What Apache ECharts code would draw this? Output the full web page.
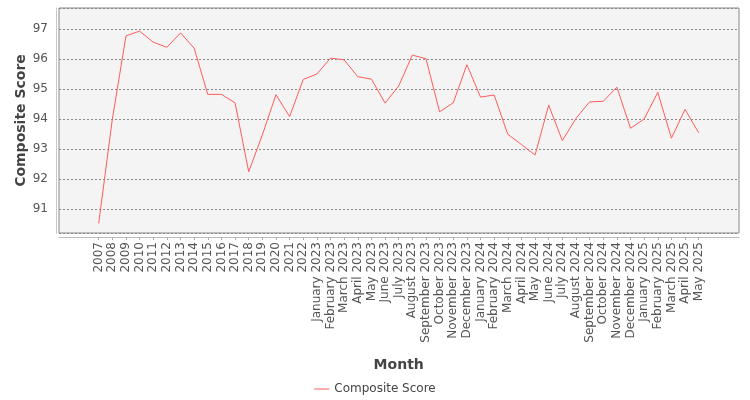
<!DOCTYPE html>
<html>
<head>
<meta charset="utf-8">
<title>Composite Score</title>
<script src="https://cdn.jsdelivr.net/npm/echarts@6/dist/echarts.min.js"></script>
<style>
  html, body { margin: 0; padding: 0; background: #fff; }
  #chart { width: 750px; height: 400px; }
</style>
</head>
<body>
<div id="chart"></div>
<script>
// categories (x axis)
var months = [
    '2007', '2008', '2009', '2010', '2011', '2012', '2013', '2014',
    '2015', '2016', '2017', '2018', '2019', '2020', '2021', '2022',
    'January 2023', 'February 2023', 'March 2023', 'April 2023', 'May 2023', 'June 2023',
    'July 2023', 'August 2023', 'September 2023', 'October 2023', 'November 2023', 'December 2023',
    'January 2024', 'February 2024', 'March 2024', 'April 2024', 'May 2024', 'June 2024',
    'July 2024', 'August 2024', 'September 2024', 'October 2024', 'November 2024', 'December 2024',
    'January 2025', 'February 2025', 'March 2025', 'April 2025', 'May 2025'
];

// series values
var compositeScore = [
    90.53, 94.0, 96.78, 96.94, 96.57, 96.40, 96.88, 96.37,
    94.83, 94.83, 94.55, 92.25, 93.48, 94.82, 94.09, 95.33,
    95.51, 96.04, 95.98, 95.42, 95.34, 94.54,
    95.11, 96.14, 96.02, 94.25, 94.55, 95.82,
    94.74, 94.81, 93.50, 93.16, 92.81, 94.47,
    93.29, 94.03, 94.58, 94.60, 95.07, 93.70,
    94.01, 94.90, 93.37, 94.33, 93.55
];

// value range of the plot
var yMin = 90.21;
var yMax = 97.71;

var seriesName = 'Composite Score';
var lineColor = '#ff5b5b';
var textColor = '#444';

var myChart = echarts.init(document.getElementById('chart'));

var option = {
    animation: false,
    textStyle: { fontFamily: 'DejaVu Sans' },
    grid: [
        // plot frame: background, grid lines, y axis
        { left: 59, right: 11, top: 8, bottom: 167, show: true,
          backgroundColor: '#f4f4f4', borderColor: '#888', borderWidth: 1 },
        // data area (categories inset from the frame)
        { left: 98.7, right: 51.3, top: 8, bottom: 167 }
    ],
    xAxis: [
        {
            gridIndex: 0, type: 'category', data: ['a'],
            offset: 4,
            axisLine: { show: true, lineStyle: { color: '#bbb' } },
            axisTick: { show: false },
            axisLabel: { show: false },
            splitLine: { show: false }
        },
        {
            gridIndex: 1, type: 'category', data: months,
            boundaryGap: false,
            offset: 4,
            axisLine: { show: false },
            axisTick: { show: true, interval: 0, length: 3, lineStyle: { color: '#aaa' } },
            axisLabel: { interval: 0, rotate: 90, fontSize: 12, color: '#555', margin: 5 },
            name: 'Month',
            nameLocation: 'middle',
            nameGap: 121,
            nameMoveOverlap: false,
            nameTextStyle: { fontSize: 14, fontWeight: 'bold', color: textColor }
        }
    ],
    yAxis: [
        {
            gridIndex: 0, type: 'value', min: yMin, max: yMax, splitNumber: 7,
            offset: 3,
            axisLine: { show: true, lineStyle: { color: '#c8c8c8' } },
            axisTick: { show: false },
            axisLabel: { fontSize: 12, color: '#555', margin: 8,
                         showMinLabel: false, showMaxLabel: false },
            splitLine: { show: true, lineStyle: { color: '#8a8a8a', type: [2, 2], width: 1 } },
            name: 'Composite Score',
            nameLocation: 'middle',
            nameGap: 28,
            nameMoveOverlap: false,
            nameTextStyle: { fontSize: 14, fontWeight: 'bold', color: textColor }
        },
        {
            gridIndex: 1, type: 'value', min: yMin, max: yMax,
            show: false
        }
    ],
    legend: {
        bottom: 0,
        left: 'center',
        icon: 'rect',
        itemWidth: 15,
        itemHeight: 1,
        itemGap: 10,
        textStyle: { fontSize: 12, color: textColor },
        data: [seriesName]
    },
    series: [{
        name: seriesName,
        type: 'line',
        xAxisIndex: 1,
        yAxisIndex: 1,
        data: compositeScore,
        showSymbol: false,
        symbol: 'none',
        lineStyle: { color: lineColor, width: 1 },
        itemStyle: { color: lineColor }
    }]
};

myChart.setOption(option);
</script>
</body>
</html>
